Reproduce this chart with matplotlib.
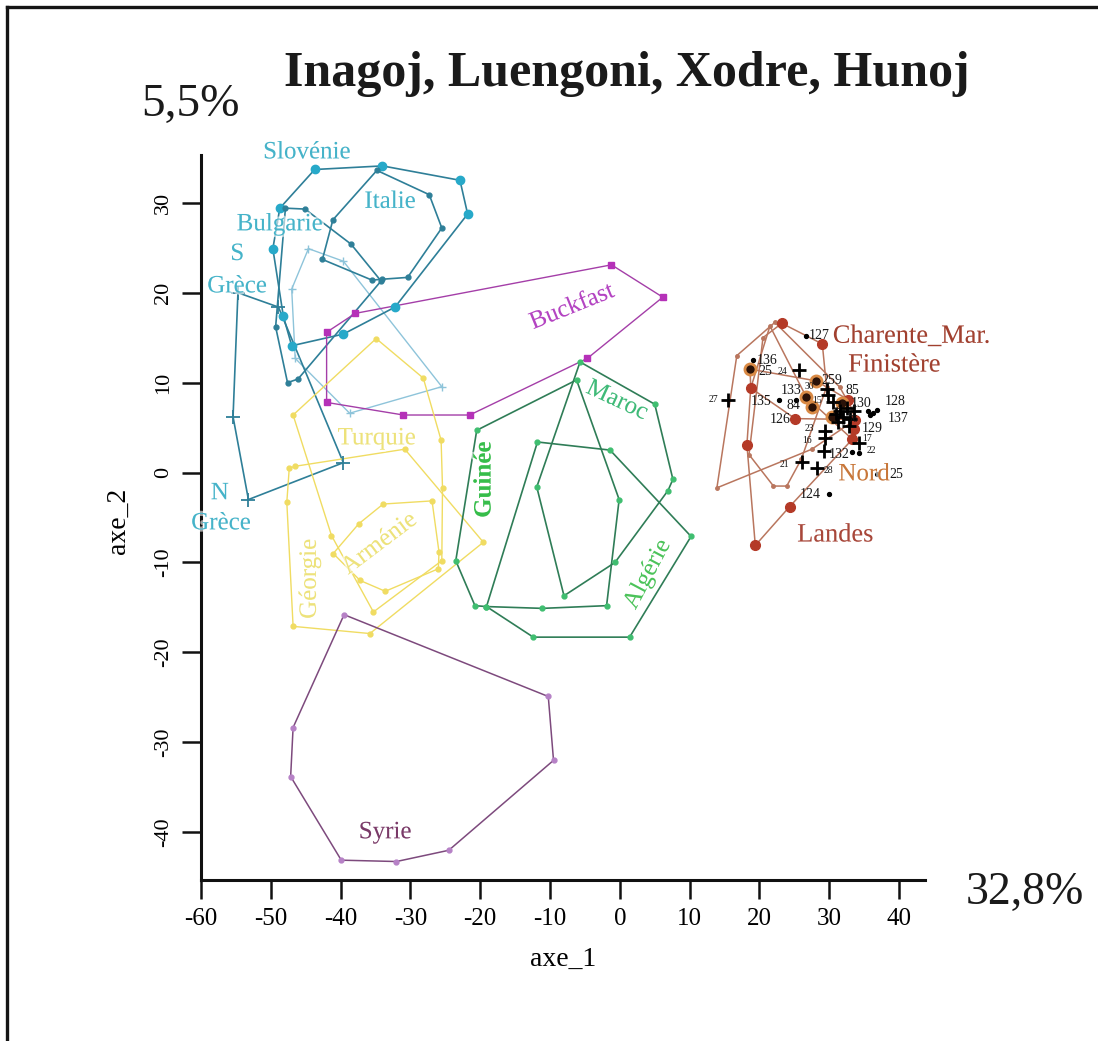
import matplotlib
matplotlib.use("Agg")
import matplotlib.pyplot as plt
from matplotlib.lines import Line2D
import matplotlib.patheffects as pe

plt.rcParams['font.family'] = ['Liberation Serif', 'DejaVu Serif']

# ---------------- data ----------------
slovenie_x = [-43.7, -34.0, -22.9, -21.8, -32.2, -39.6, -47.0, -48.2, -49.7, -48.7]
slovenie_y = [33.7, 34.1, 32.5, 28.75, 18.4, 15.4, 14.1, 17.4, 24.9, 29.4]
italie_x = [-34.8, -27.3, -25.5, -30.4, -34.0, -35.5, -42.6, -41.1]
italie_y = [33.6, 30.9, 27.2, 21.7, 21.5, 21.4, 23.7, 28.1]
bulgarie_x = [-45.1, -38.5, -34.2, -46.1, -47.6, -49.3, -47.9]
bulgarie_y = [29.3, 25.4, 21.3, 10.4, 10.0, 16.2, 29.4]
pale_x = [-44.6, -39.6, -25.5, -38.7, -46.5, -47.0]
pale_y = [24.9, 23.5, 9.55, 6.6, 12.7, 20.4]
grece_x = [-54.7, -48.9, -39.6, -53.2, -55.4]
grece_y = [20.0, 18.4, 1.1, -3.0, 6.2]

buckfast_x = [-37.9, -1.2, 6.15, -4.65, -21.5, -31.0, -42.0, -42.0]
buckfast_y = [17.7, 23.1, 19.5, 12.7, 6.4, 6.4, 7.8, 15.6]

turquie_x = [-34.9, -28.15, -25.6, -25.4, -25.5, -35.3, -41.3, -46.8]
turquie_y = [14.9, 10.5, 3.6, -1.7, -9.8, -15.5, -7.0, 6.4]
armenie_x = [-33.9, -26.9, -25.9, -26.0, -33.6, -37.2, -41.05, -37.4]
armenie_y = [-3.5, -3.15, -8.85, -10.7, -13.2, -12.0, -9.0, -5.7]
georgie_x = [-47.35, -46.5, -30.8, -19.55, -35.8, -46.8, -47.7]
georgie_y = [0.5, 0.7, 2.6, -7.75, -17.9, -17.1, -3.3]

maroc_x = [-5.7, 5.0, 7.6, 6.9, -0.7, -8.0, -11.9]
maroc_y = [12.3, 7.6, -0.75, -2.0, -10.0, -13.7, -1.6]
guinee_x = [-20.5, -6.2, -0.1, -1.9, -11.1, -19.1, -20.75, -23.5]
guinee_y = [4.7, 10.3, -3.0, -14.8, -15.1, -14.9, -14.8, -9.8]
algerie_x = [-11.8, -1.4, 10.2, 1.4, -12.4, -19.1]
algerie_y = [3.4, 2.5, -7.1, -18.3, -18.3, -14.9]

syrie_x = [-39.5, -10.25, -9.5, -24.5, -32.0, -39.9, -47.15, -46.8]
syrie_y = [-15.8, -24.9, -32.0, -42.0, -43.25, -43.1, -33.8, -28.35]

nord_x = [16.75, 22.2, 31.5, 34.0, 27.5, 13.9]
nord_y = [13.0, 16.7, 9.5, 6.0, 2.6, -1.7]
charente_x = [23.2, 29.0, 29.6, 26.0, 23.9, 22.0, 18.5, 20.5]
charente_y = [16.6, 14.3, 9.5, 1.5, -1.5, -1.5, 2.0, 15.0]
finistere_x = [18.65, 28.1, 32.7, 33.7, 25.1, 18.75]
finistere_y = [11.5, 10.2, 8.1, 5.9, 6.0, 9.4]
landes_x = [19.4, 18.2, 18.75, 21.5, 26.7, 33.3, 24.3]
landes_y = [-8.1, 3.1, 9.4, 16.3, 8.4, 3.7, -3.8]

red_x = [23.2, 29.0, 18.75, 18.2, 24.3, 19.4, 25.1, 32.7, 33.7, 33.3, 33.5]
red_y = [16.6, 14.3, 9.4, 3.1, -3.8, -8.1, 6.0, 8.1, 5.9, 3.7, 4.8]
ring_x = [18.65, 28.1, 26.7, 27.5, 30.35, 31.8]
ring_y = [11.5, 10.2, 8.4, 7.3, 6.2, 7.7]
plus_x = [25.6, 15.5, 29.6, 29.4, 29.4, 29.2, 26.1, 28.2, 34.2,
          31.5, 32.0, 32.5, 33.0, 31.2, 32.8, 30.5, 29.8, 33.5, 31.0]
plus_y = [11.4, 8.1, 9.25, 4.6, 3.8, 2.4, 1.15, 0.5, 3.3,
          6.8, 6.2, 7.2, 6.0, 5.6, 5.2, 7.8, 8.6, 6.8, 6.5]
dot_x = [26.7, 19.1, 22.85, 25.2, 36.8, 35.8, 34.2, 33.2, 30.0, 36.8, 35.5, 36.3]
dot_y = [15.2, 12.5, 8.1, 8.1, 7.0, 6.4, 2.2, 2.3, -2.4, -0.2, 6.9, 6.6]

num_text = ['127', '136', '25', '24', '27', '135', '84', '126', '133', '30', '259',
            '85', '130', '128', '137', '129', '17', '22', '23', '16', '132', '21',
            '28', '124', '25', '15', '12', '76']
num_x = [27.0, 19.6, 19.85, 22.6, 12.7, 18.8, 23.9, 21.5, 23.0, 26.4, 28.9,
         32.3, 33.0, 38.0, 38.3, 34.65, 34.65, 35.4, 26.5, 26.05, 29.9, 22.85,
         29.15, 25.8, 38.6, 27.6, 30.2, 32.8]
num_y = [15.2, 12.5, 11.2, 11.2, 8.1, 7.9, 7.5, 5.9, 9.1, 9.6, 10.2,
         9.1, 7.7, 7.9, 6.0, 4.95, 3.8, 2.4, 4.95, 3.6, 2.0, 0.9,
         0.2, -2.4, -0.2, 8.0, 7.4, 5.9]
num_size = [10, 10, 10, 7, 7, 10, 10, 10, 10, 7, 10,
            10, 10, 10, 10, 10, 7, 7, 7, 7, 10, 7,
            7, 10, 10, 7, 7, 7]

x_ticks = [-60, -50, -40, -30, -20, -10, 0, 10, 20, 30, 40]
y_ticks = [-40, -30, -20, -10, 0, 10, 20, 30]

# ---------------- colours ----------------
TEAL_L = '#2e7f98'
TEAL_D = '#27a9c9'
TEAL_T = '#45b3c9'
PALE = '#8ec4da'
PURP = '#a43ea8'
PURP_M = '#b531b8'
YEL = '#f0dc62'
YEL_T = '#ede27a'
GRN_L = '#2f7d57'
GRN_D = '#3fbe70'
SYR_L = '#7d4a7d'
SYR_D = '#b681c6'
BRN = '#b9765e'
RED = '#b43a27'

fig = plt.figure(figsize=(10.98, 10.41), dpi=100)
ax = fig.add_axes([0.183, 0.1547, 0.6594, 0.6963])
ax.set_xlim(-60, 43.7)
ax.set_ylim(-45.3, 35.3)


def poly(xs, ys, color, lw=1.1, marker='o', ms=3, mcolor=None, mew=1.0, z=2):
    xx = list(xs) + [xs[0]]
    yy = list(ys) + [ys[0]]
    ax.plot(xx, yy, color=color, lw=lw, zorder=z)
    ax.plot(xs, ys, linestyle='none', marker=marker, ms=ms,
            color=mcolor or color, mec=mcolor or color, mew=mew, zorder=z + 0.1)


poly(pale_x, pale_y, PALE, lw=1.0, marker='+', ms=6)
poly(slovenie_x, slovenie_y, TEAL_L, lw=1.2, ms=6, mcolor=TEAL_D)
poly(italie_x, italie_y, TEAL_L, lw=1.2, ms=3.5, mcolor=TEAL_L)
poly(bulgarie_x, bulgarie_y, TEAL_L, lw=1.2, ms=3.5, mcolor=TEAL_L)
poly(grece_x, grece_y, TEAL_L, lw=1.2, marker='+', ms=10, mcolor=TEAL_L, mew=1.3)
poly(buckfast_x, buckfast_y, PURP, lw=1.0, marker='s', ms=4.5, mcolor=PURP_M)
poly(turquie_x, turquie_y, YEL, lw=1.0, ms=3.5)
poly(armenie_x, armenie_y, YEL, lw=1.0, ms=3.5)
poly(georgie_x, georgie_y, YEL, lw=1.0, ms=3.5)
poly(maroc_x, maroc_y, GRN_L, lw=1.2, ms=3.5, mcolor=GRN_D)
poly(guinee_x, guinee_y, GRN_L, lw=1.2, ms=3.5, mcolor=GRN_D)
poly(algerie_x, algerie_y, GRN_L, lw=1.2, ms=3.5, mcolor=GRN_D)
poly(syrie_x, syrie_y, SYR_L, lw=1.1, ms=3.5, mcolor=SYR_D)
poly(nord_x, nord_y, BRN, lw=1.1, ms=2.5)
poly(charente_x, charente_y, BRN, lw=1.1, ms=2.5)
poly(finistere_x, finistere_y, BRN, lw=1.1, ms=2.5)
poly(landes_x, landes_y, BRN, lw=1.1, ms=2.5)

ax.plot(red_x, red_y, linestyle='none', marker='o', ms=7, color=RED, mec=RED, zorder=4)
ax.plot(ring_x, ring_y, linestyle='none', marker='o', ms=8, color='#2a1208',
        mec='#d98a45', mew=2.0, zorder=4.2)
ax.plot(plus_x, plus_y, linestyle='none', marker='+', ms=10, mew=2.0, color='black', zorder=5)
ax.plot(dot_x, dot_y, linestyle='none', marker='o', ms=2.8, color='black', zorder=5)
for t, x, y, s in zip(num_text, num_x, num_y, num_size):
    ax.text(x, y, t, fontsize=s, color='#151515', ha='left', va='center', zorder=6)


def lab(x, y, s, color, size=18, rot=0, weight='normal', ha='center'):
    ax.text(x, y, s, color=color, fontsize=size, rotation=rot, ha=ha, va='center',
            fontweight=weight, rotation_mode='anchor', zorder=7, clip_on=False,
            path_effects=[pe.withStroke(linewidth=3, foreground='white', alpha=0.6)])


lab(-44.8, 35.6, 'Slovénie', TEAL_T)
lab(-32.9, 30.1, 'Italie', TEAL_T)
lab(-48.7, 27.6, 'Bulgarie', TEAL_T)
lab(-54.8, 24.3, 'S', TEAL_T)
lab(-54.8, 20.7, 'Grèce', TEAL_T)
lab(-57.3, -2.3, 'N', TEAL_T)
lab(-57.1, -5.65, 'Grèce', TEAL_T)
lab(-6.85, 18.4, 'Buckfast', '#b444c2', rot=22)
lab(-34.8, 3.8, 'Turquie', YEL_T)
lab(-0.4, 8.0, 'Maroc', '#3fba78', rot=-25)
lab(-19.45, -0.8, 'Guinée', '#36bd4a', rot=90, weight='bold')
lab(4.0, -11.3, 'Algérie', '#4cc35a', rot=62)
lab(-34.4, -7.9, 'Arménie', YEL_T, rot=37)
lab(-44.4, -11.8, 'Géorgie', YEL_T, rot=90)
lab(-33.6, -40.0, 'Syrie', '#7a3a68')
lab(30.5, 15.1, 'Charente_Mar.', '#a1402f', size=19, ha='left')
lab(32.7, 11.9, 'Finistère', '#a1402f', size=19, ha='left')
lab(31.3, -0.2, 'Nord', '#c8773a', size=18, ha='left')
lab(25.4, -7.0, 'Landes', '#a8473a', size=19, ha='left')

# axes styling
for side in ['top', 'right']:
    ax.spines[side].set_visible(False)
for side in ['left', 'bottom']:
    ax.spines[side].set_linewidth(2.2)
    ax.spines[side].set_color('#111111')
ax.set_xticks(x_ticks)
ax.set_yticks(y_ticks)
ax.set_xticklabels([str(v) for v in x_ticks], fontsize=18)
ax.set_yticklabels([str(v) for v in y_ticks], fontsize=16, rotation=90, va='center')
ax.tick_params(axis='both', length=14, width=1.8, color='#111111', direction='out')
ax.tick_params(axis='x', pad=6)
ax.tick_params(axis='y', pad=6)

fig.text(0.513, 0.078, 'axe_1', fontsize=20, ha='center', va='center')
fig.text(0.1075, 0.5, 'axe_2', fontsize=20, ha='center', va='center', rotation=90)
fig.text(0.571, 0.929, 'Inagoj, Luengoni, Xodre, Hunoj', fontsize=36,
         fontweight='bold', ha='center', va='center', color='#1a1a1a')
fig.text(0.173, 0.899, '5,5%', fontsize=34, ha='center', va='center', color='#1a1a1a')
fig.text(0.9335, 0.142, '32,8%', fontsize=33, ha='center', va='center', color='#1a1a1a')

# figure frame (top and left edges)
fig.add_artist(Line2D([0.0065, 1.0], [0.9933, 0.9933], transform=fig.transFigure,
                      color='#151515', lw=2.4))
fig.add_artist(Line2D([0.0065, 0.0065], [0.0, 0.9933], transform=fig.transFigure,
                      color='#151515', lw=2.4))

fig.savefig('out.png', dpi=100)
